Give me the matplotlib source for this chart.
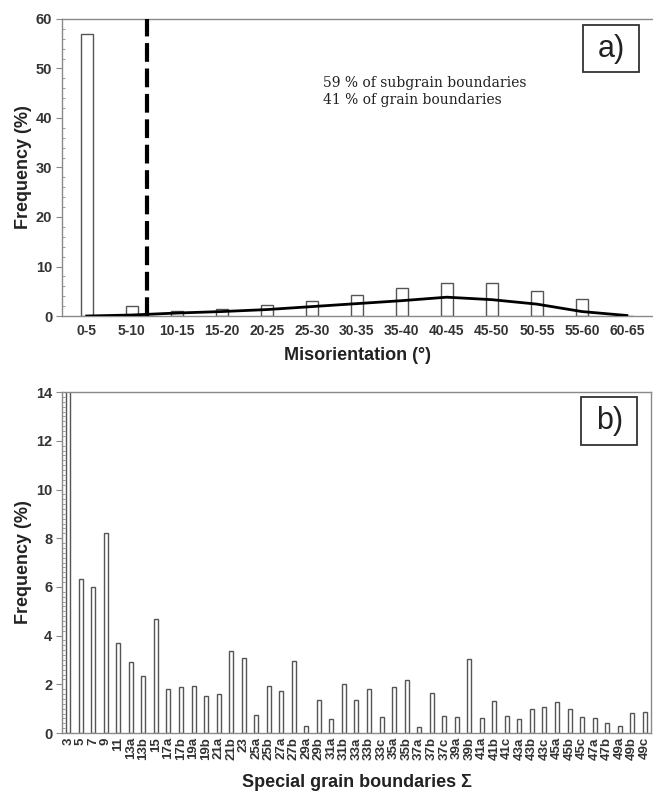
import matplotlib
matplotlib.use("Agg")
import matplotlib.pyplot as plt
from matplotlib.patches import Rectangle
from matplotlib.ticker import MultipleLocator

# panel a) misorientation distribution
mis_bins = ["0-5", "5-10", "10-15", "15-20", "20-25", "25-30", "30-35",
            "35-40", "40-45", "45-50", "50-55", "55-60", "60-65"]
mis_freq = [57.0, 2.0, 1.05, 1.4, 2.2, 3.1, 4.2, 5.7, 6.7, 6.6, 5.1, 3.5, 0.0]
mis_random = [0.0, 0.2, 0.6, 0.9, 1.3, 1.9, 2.5, 3.1, 3.8, 3.3, 2.4, 0.9, 0.1]
cutoff_pos = 1.35  # dashed separator, category units

# panel b) special grain boundaries
sigma_labels = ["3", "5", "7", "9", "11", "13a", "13b", "15", "17a", "17b",
                "19a", "19b", "21a", "21b", "23", "25a", "25b", "27a", "27b",
                "29a", "29b", "31a", "31b", "33a", "33b", "33c", "35a", "35b",
                "37a", "37b", "37c", "39a", "39b", "41a", "41b", "41c", "43a",
                "43b", "43c", "45a", "45b", "45c", "47a", "47b", "49a", "49b",
                "49c"]
sigma_freq = [30.0, 6.31, 6.0, 8.21, 3.71, 2.91, 2.33, 4.69, 1.81, 1.87,
              1.94, 1.51, 1.59, 3.37, 3.08, 0.74, 1.94, 1.72, 2.96,
              0.30, 1.34, 0.56, 2.01, 1.35, 1.82, 0.67, 1.87, 2.19,
              0.23, 1.64, 0.71, 0.64, 3.05, 0.60, 1.31, 0.71, 0.59,
              0.97, 1.07, 1.29, 1.00, 0.66, 0.62, 0.42, 0.30, 0.81,
              0.85]

SANS = "Liberation Sans"
SERIF = "DejaVu Serif"
TXT = "#333333"
SPINE = "#8a8a8a"

fig = plt.figure(figsize=(6.53, 7.91), dpi=100)
ax1 = fig.add_axes([0.0949, 0.6005, 0.9051, 0.3755])
ax2 = fig.add_axes([0.0949, 0.0733, 0.902, 0.431])


def style_axis(ax, ymax, major, minor):
    for side in ("left", "bottom", "top", "right"):
        ax.spines[side].set_color(SPINE)
        ax.spines[side].set_linewidth(1.0)
    ax.set_ylim(0, ymax)
    ax.yaxis.set_major_locator(MultipleLocator(major))
    ax.yaxis.set_minor_locator(MultipleLocator(minor))
    ax.tick_params(axis="y", which="major", direction="out", length=4,
                   color=SPINE, labelsize=10.5, labelcolor=TXT, pad=3)
    ax.tick_params(axis="y", which="minor", direction="in", length=2.5,
                   color=SPINE)
    ax.tick_params(axis="x", length=0, labelcolor=TXT)
    for lab in ax.get_yticklabels():
        lab.set_fontweight("bold")
        lab.set_family(SANS)


def panel_tag(ax, text, x0, y0, w, h):
    # framed tag in axes coordinates
    ax.add_patch(Rectangle((x0, y0), w, h, transform=ax.transAxes,
                           facecolor="white", edgecolor="#333333",
                           linewidth=1.3, zorder=5))
    ax.text(x0 + w / 2, y0 + h / 2, text, transform=ax.transAxes,
            fontsize=22, family=SANS, ha="center", va="center",
            color="#222222", zorder=6)


# ---- a)
xa = range(len(mis_bins))
ax1.bar(xa, mis_freq, width=0.27, facecolor="white", edgecolor="#555555",
        linewidth=1.0, zorder=2)
ax1.plot(xa, mis_random, color="black", lw=2.0, zorder=3)
ax1.axvline(cutoff_pos, color="black", lw=3.0, dashes=(4.5, 1.6), zorder=4)
ax1.set_xlim(-0.55, 12.58)
style_axis(ax1, 60, 10, 2)
ax1.spines["right"].set_visible(False)
ax1.set_xticks(list(xa))
ax1.set_xticklabels(mis_bins, fontsize=10, fontweight="bold", family=SANS)
ax1.tick_params(axis="x", pad=6)
ax1.set_ylabel("Frequency (%)", fontsize=13, fontweight="bold",
               family=SANS, color="#222222", labelpad=3)
ax1.set_xlabel("Misorientation (°)", fontsize=13, fontweight="bold",
               family=SANS, color="#222222", labelpad=6)
ax1.text(0.441, 0.756, "59 % of subgrain boundaries\n41 % of grain boundaries",
         transform=ax1.transAxes, family=SERIF, fontsize=10, color="#222222",
         va="center", ha="left", linespacing=1.2)
panel_tag(ax1, "a)", 0.8816, 0.8215, 0.0947, 0.158)

# ---- b)
xb = range(len(sigma_labels))
ax2.bar(xb, sigma_freq, width=0.32, facecolor="white", edgecolor="#555555",
        linewidth=1.0, zorder=2)
ax2.set_xlim(-0.5, len(sigma_labels) - 0.5)
style_axis(ax2, 14, 2, 0.2)
ax2.set_xticks(list(xb))
ax2.set_xticklabels(sigma_labels, rotation=90, fontsize=9.5,
                    fontweight="bold", family=SANS)
ax2.tick_params(axis="x", pad=3)
ax2.set_ylabel("Frequency (%)", fontsize=13, fontweight="bold",
               family=SANS, color="#222222", labelpad=3)
ax2.set_xlabel("Special grain boundaries Σ", fontsize=13,
               fontweight="bold", family=SANS, color="#222222", labelpad=10)
panel_tag(ax2, "b)", 0.8816, 0.8446, 0.0951, 0.1408)

fig.savefig("out.png", dpi=100)
